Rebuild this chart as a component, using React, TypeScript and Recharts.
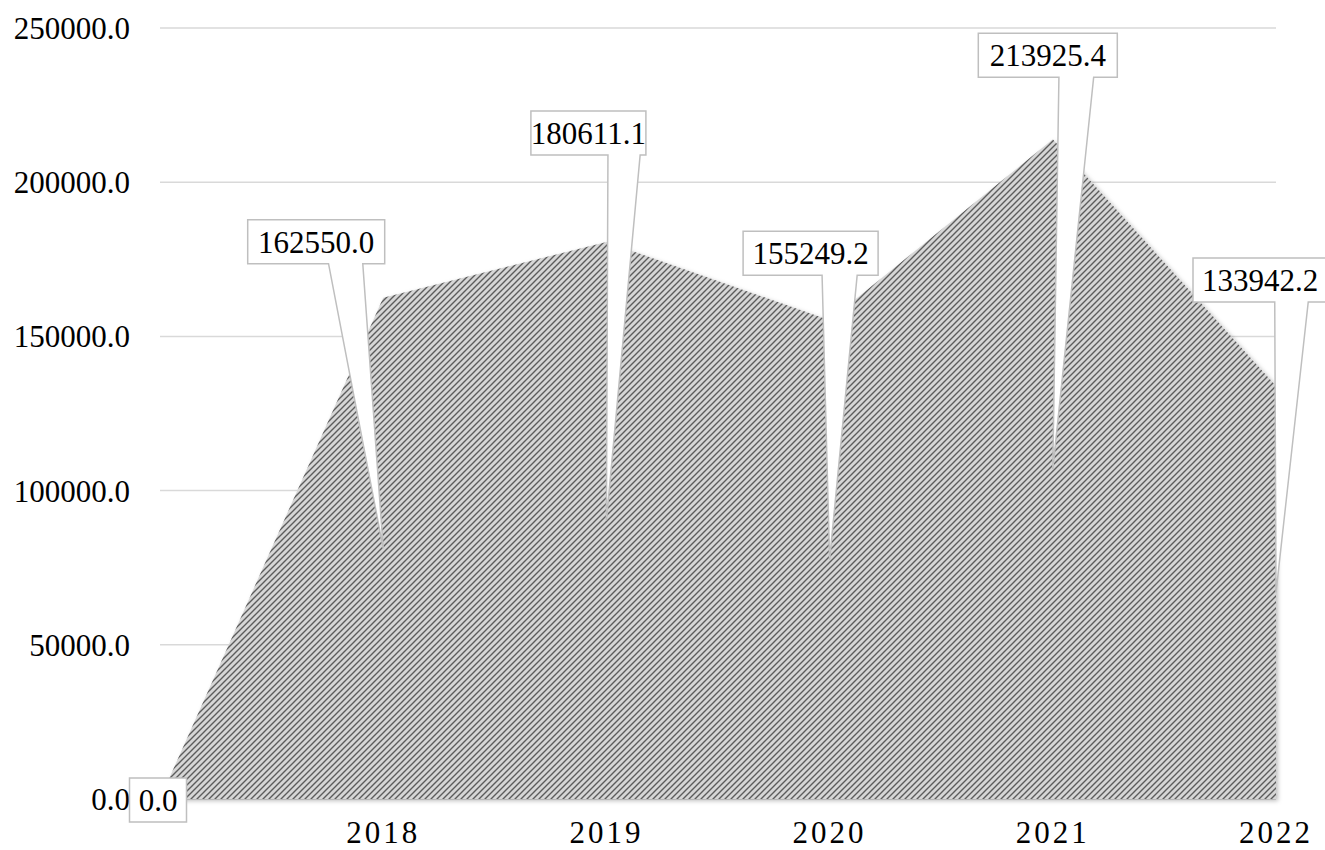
import React from 'react';
import { AreaChart, Area, XAxis, YAxis, CartesianGrid, LabelList } from 'recharts';

const years = ['', '2018', '2019', '2020', '2021', '2022'];
const amounts = [0.0, 162550.0, 180611.1, 155249.2, 213925.4, 133942.2];
const yTicks = [0, 50000, 100000, 150000, 200000, 250000];

// callout box placement relative to each point (dx, dy of box centre), box width, wedge base as fraction of width
const callouts = [
  { dx: -2, dy: 1, w: 57, b0: 0, b1: 0 },
  { dx: -67, dy: -56, w: 137, b0: 0.59, b1: 0.84 },
  { dx: -18, dy: -109, w: 115, b0: 0.67, b1: 0.95 },
  { dx: -19, dy: -67, w: 135, b0: 0.585, b1: 0.845 },
  { dx: -5, dy: -84, w: 139, b0: 0.58, b1: 0.83 },
  { dx: -16, dy: -106, w: 134, b0: 0.61, b1: 0.86 },
];

const W = 1325;
const H = 850;
const margin = { top: 28, right: 49, bottom: 4, left: 0 };
const xAxisHeight = 47;
const plotBottom = H - margin.bottom - xAxisHeight;
const font = '"Liberation Serif", "Times New Roman", serif';
const boxH = 44;

const data = years.map((year, i) => ({ year, value: amounts[i] }));

function Callout(props: any) {
  const x = props.x ?? props.viewBox?.x;
  const y = props.y ?? props.viewBox?.y;
  const i = props.index;
  const c = callouts[i];
  if (x == null || y == null || !c) return null;
  const cx = x + c.dx;
  const cy = y + c.dy;
  const left = cx - c.w / 2;
  const right = cx + c.w / 2;
  const top = cy - boxH / 2;
  const bottom = cy + boxH / 2;
  const tipX = x;
  const tipY = (y + plotBottom) / 2;
  let d: string;
  if (tipY <= bottom) {
    d = `M${left},${top}H${right}V${bottom}H${left}Z`;
  } else {
    const bl = left + c.w * c.b0;
    const br = left + c.w * c.b1;
    d = `M${left},${top}H${right}V${bottom}H${br}L${tipX},${tipY}L${bl},${bottom}H${left}Z`;
  }
  return (
    <g>
      <path d={d} fill="#ffffff" stroke="#bfbfbf" strokeWidth={1.5} />
      <text x={cx} y={cy + 11} textAnchor="middle" fontSize={31} fontFamily={font} fill="#000">
        {Number(props.value).toFixed(1)}
      </text>
    </g>
  );
}

export default function App() {
  return (
    <div style={{ position: 'absolute', left: 0, top: 0, background: '#fff' }}>
      <AreaChart width={W} height={H} data={data} margin={margin}>
        <defs>
          <pattern id="hatch" width="6" height="6" patternUnits="userSpaceOnUse">
            <rect width="6" height="6" fill="#d6d6d6" />
            <path d="M-1,7 L7,-1 M-4,4 L4,-4 M2,10 L10,2" stroke="#5c5c5c" strokeWidth={1.4} />
          </pattern>
          <filter id="shade" x="-5%" y="-5%" width="110%" height="110%">
            <feDropShadow dx="2" dy="2" stdDeviation="2" floodColor="#000" floodOpacity="0.25" />
          </filter>
        </defs>
        <CartesianGrid vertical={false} stroke="#d9d9d9" strokeWidth={1.5} />
        <XAxis
          dataKey="year"
          height={xAxisHeight}
          axisLine={false}
          tickLine={false}
          tickSize={0}
          tickMargin={22}
          interval={0}
          tick={{ fontSize: 31, fontFamily: font, fill: '#000', letterSpacing: 3 }}
        />
        <YAxis
          width={160}
          domain={[0, 250000]}
          ticks={yTicks}
          axisLine={false}
          tickLine={false}
          tickSize={0}
          tickMargin={30}
          tickFormatter={(v: number) => v.toFixed(1)}
          tick={{ fontSize: 31, fontFamily: font, fill: '#000' }}
        />
        <Area
          type="linear"
          dataKey="value"
          stroke="none"
          fill="url(#hatch)"
          fillOpacity={1}
          filter="url(#shade)"
          isAnimationActive={false}
        >
          <LabelList dataKey="value" content={Callout} />
        </Area>
      </AreaChart>
    </div>
  );
}
